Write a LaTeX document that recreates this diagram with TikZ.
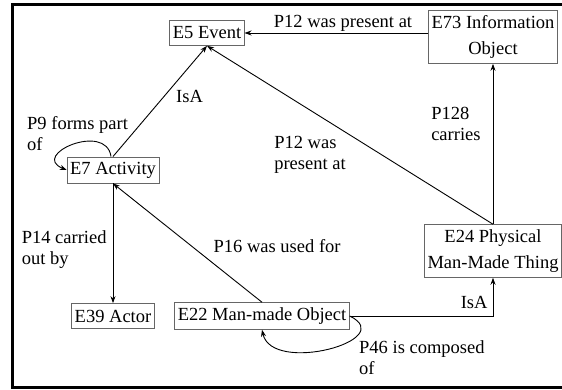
\documentclass[tikz,border=0pt]{standalone}
\usepackage{fontspec}
\setmainfont{Liberation Serif}
\usetikzlibrary{arrows.meta,positioning,calc}

\begin{document}
\begin{tikzpicture}[x=1pt, y=1pt,
    cls/.style={draw=black!60, line width=0.7pt, fill=white, inner xsep=3pt, inner ysep=5pt,
                minimum height=25pt, align=center, font=\fontsize{18.5}{26}\selectfont},
    lbl/.style={inner sep=1pt, align=left, font=\fontsize{18.5}{21}\selectfont},
    arr/.style={-{Stealth[length=7pt, width=5pt]}, line width=0.9pt}]
    \useasboundingbox (0,0) rectangle (562,390);
    \draw[line width=3pt] (12.5,2.5) rectangle (575,385);
    % classes
    \node[cls] (ev) at (207,357) {E5 Event};
    \node[cls] (info) at (493,353) {E73 Information\\Object};
    \node[cls] (act) at (113,220) {E7 Activity};
    \node[cls] (actor) at (113,74) {E39 Actor};
    \node[cls] (obj) at (262,74) {E22 Man-made Object};
    \node[cls] (thing) at (493,139) {E24 Physical\\Man-Made Thing};
    % properties
    \draw[arr] (info.west |- ev.east) -- (ev.east) node[pos=0.464, above, lbl] {P12 was present at};
    \draw[arr] (thing.north) -- (ev.south) node[pos=0.51, anchor=north east, yshift=-2pt, lbl] {P12 was\\present at};
    \draw[arr] (thing.north) -- (info.south) node[pos=0.74, anchor=north east, xshift=-11pt, lbl] {P128\\carries};
    \draw[arr] (act.north) -- (ev.south) node[pos=0.54, anchor=west, xshift=11pt, lbl] {IsA};
    \draw[arr] ([xshift=-2pt]act.north) .. controls +(-5,35) and +(-37,15) .. (act.west);
    \node[lbl, anchor=north west] (p9) at (26,275) {P9 forms part\\of};
    \draw[arr] (act.south) -- (actor.north) node[pos=0.38, anchor=north east, xshift=-5pt, lbl] {P14 carried\\out by};
    \draw[arr] (obj.north) -- (act.south) node[pos=0.475, anchor=west, xshift=21pt, lbl] {P16 was used for};
    \draw[arr] (obj.east) -| (thing.south) node[pos=0.5, anchor=south east, xshift=-4pt, yshift=6pt, lbl] {IsA};
    \draw[arr] (obj.east) .. controls +(50,-24) and +(10,-45) .. (obj.south);
    \node[lbl, anchor=north west] (p46) at (358,51) {P46 is composed\\of};
\end{tikzpicture}
\end{document}
